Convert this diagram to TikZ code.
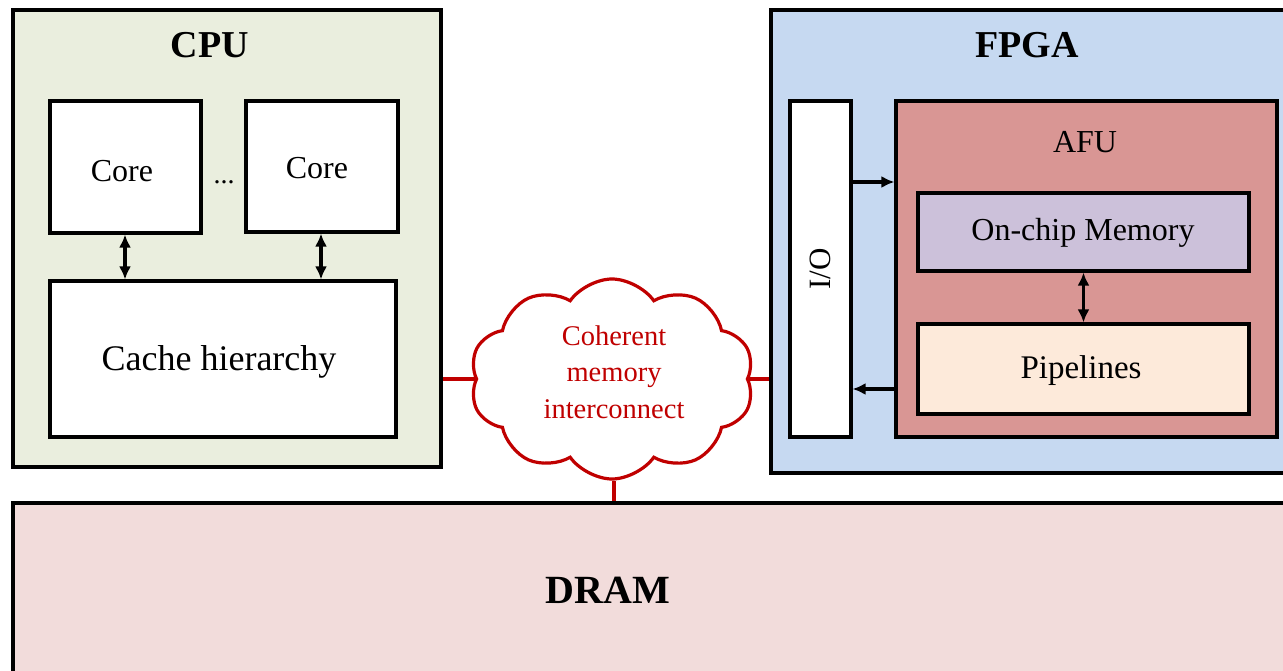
\documentclass[tikz,border=0pt]{standalone}
\usepackage{fontspec}
\setmainfont{Liberation Serif}
\usetikzlibrary{shapes.symbols,arrows.meta,calc}
\definecolor{cpufill}{HTML}{EAEEDE}
\definecolor{fpgafill}{HTML}{C6D9F1}
\definecolor{afufill}{HTML}{D99694}
\definecolor{memfill}{HTML}{CCC1DA}
\definecolor{pipefill}{HTML}{FDEADA}
\definecolor{dramfill}{HTML}{F2DCDB}
\definecolor{netred}{HTML}{C00000}
\tikzset{
  blk/.style={draw=black, line width=3.1pt, rectangle, inner sep=0pt},
  ttl/.style={font=\fontsize{38}{44}\selectfont\bfseries, inner sep=0pt},
  lbl/.style={font=\fontsize{33}{38}\selectfont, inner sep=0pt},
  dbl/.style={line width=3.2pt, {Latex[length=13pt,width=12pt]}-{Latex[length=13pt,width=12pt]}},
  arr/.style={line width=3.2pt, -{Latex[length=13pt,width=12pt]}},
  net/.style={draw=netred, line width=3.2pt},
}
\begin{document}
\begin{tikzpicture}[x=1pt,y=-1pt]
\useasboundingbox (0,0) rectangle (1283,671);
\clip (0,0) rectangle (1283,671);

% CPU side
\node[blk, fill=cpufill, minimum width=428pt, minimum height=457pt] (cpu) at (227,238.5) {};
\node[ttl] (cputitle) at (210,45) {CPU};
\node[blk, fill=white, minimum width=151pt, minimum height=132pt] (core1) at (125.5,167) {};
\node[blk, fill=white, minimum width=152pt, minimum height=131pt] (core2) at (322,166.5) {};
\node[lbl, font=\fontsize{32}{36}\selectfont] (core1t) at (122,171) {Core};
\node[lbl, font=\fontsize{32}{36}\selectfont] (core2t) at (317,168) {Core};
\node[lbl, font=\fontsize{28}{32}\selectfont] (dots) at (224,182) {...};
\node[blk, fill=white, minimum width=346pt, minimum height=156pt] (cache) at (223,359) {};
\node[lbl, font=\fontsize{36}{40}\selectfont] (cachet) at (219,362) {Cache hierarchy};
\draw[dbl] (core1.south) ++(-0.5,0) coordinate (c1s) -- (c1s |- cache.north);
\draw[dbl] (core2.south) ++(-1,0) coordinate (c2s) -- (c2s |- cache.north);

% FPGA side
\node[blk, fill=fpgafill, minimum width=529pt, minimum height=463pt] (fpga) at (1035.5,241.5) {};
\node[ttl] (fpgatitle) at (1027,45) {FPGA};
\node[blk, fill=white, minimum width=61pt, minimum height=336pt] (io) at (820.5,269) {};
\node[lbl, rotate=90, font=\fontsize{31}{36}\selectfont] (iot) at (820,269) {I/O};
\node[blk, fill=afufill, minimum width=381pt, minimum height=336pt] (afu) at (1086.5,269) {};
\node[lbl, font=\fontsize{32}{36}\selectfont] (afut) at (1085,142) {AFU};
\node[blk, fill=memfill, minimum width=331pt, minimum height=78pt] (mem) at (1083.5,232) {};
\node[lbl, font=\fontsize{32}{36}\selectfont] (memt) at (1083,233) {On-chip Memory};
\node[blk, fill=pipefill, minimum width=331pt, minimum height=90pt] (pipe) at (1083.5,369) {};
\node[lbl, font=\fontsize{33}{38}\selectfont] (pipet) at (1081,371) {Pipelines};
\draw[dbl] (mem.south) -- (pipe.north);
\path (io.east) ++(0,-87) coordinate (ioa);
\path (io.east) ++(0,120) coordinate (iob);
\draw[arr] (ioa) -- (ioa -| afu.west);
\draw[arr] (iob -| afu.west) -- (iob);

% Memory
\node[blk, fill=dramfill, minimum width=1287pt, minimum height=187pt] (dram) at (656.5,596.5) {};
\node[ttl, font=\fontsize{40}{46}\selectfont\bfseries] (dramt) at (608,590) {DRAM};

% Interconnect cloud
\node[cloud, net, fill=white, cloud puffs=10, cloud puff arc=110, aspect=1.45,
      minimum width=284pt, minimum height=200pt, inner sep=0pt] (cloud) at (612,379) {};
\node[text=netred, align=center, font=\fontsize{28.5}{36.5}\selectfont, inner sep=0pt] (cloudt) at (614,372)
  {Coherent\\memory\\interconnect};
\draw[net] (cloud.west) -- (cloud.west -| cpu.east);
\draw[net] (cloud.east) -- (cloud.east -| fpga.west);
\draw[net] (cloud.south) ++(2,0) coordinate (cls) -- (cls |- dram.north);
\end{tikzpicture}
\end{document}
